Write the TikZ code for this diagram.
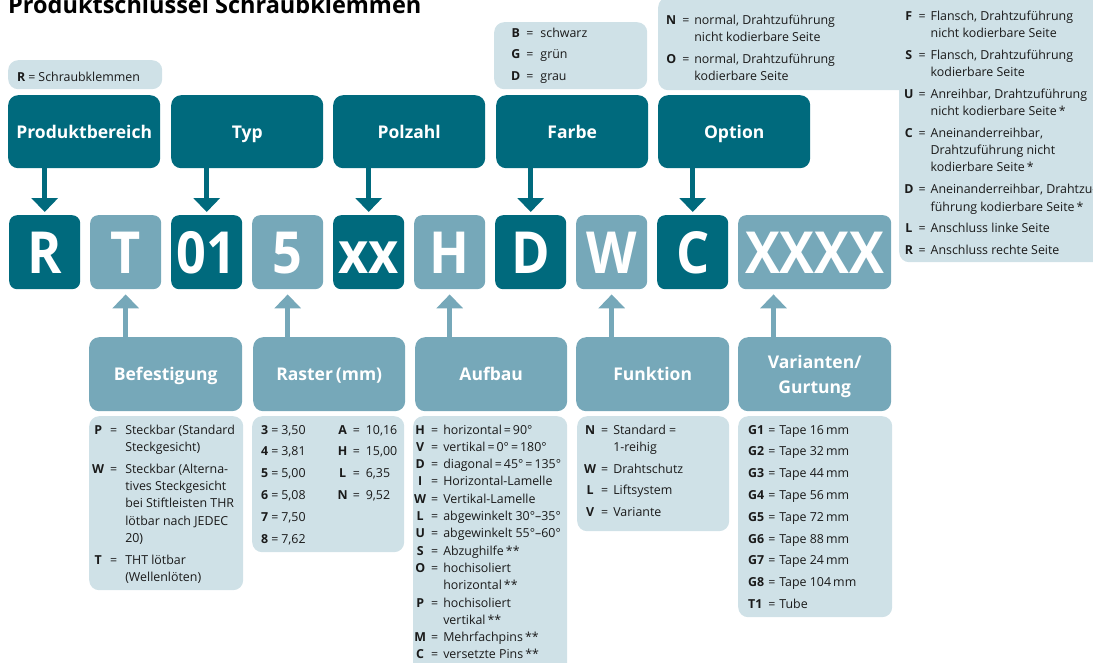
\documentclass[tikz,border=0pt]{standalone}
\usepackage{fontspec}
\setmainfont{Open Sans}
\usepackage{graphicx}
\usetikzlibrary{arrows.meta}
\definecolor{tdark}{HTML}{006A7D}
\definecolor{tmid}{HTML}{76A8B9}
\definecolor{tlight}{HTML}{CFE1E7}
\definecolor{tink}{HTML}{1A1A1A}
\newcommand{\bodyfont}{\fontsize{12.4}{17.3}\selectfont}
\newcommand{\K}[1]{\textbf{#1}}
\newcommand{\BL}[1]{\scalebox{0.9}[1]{#1}}
\tikzset{
  hdrbox/.style={fill=tdark, rounded corners=10pt, anchor=north west, inner sep=0pt,
    minimum width=152pt, minimum height=73pt, text=white,
    font=\bfseries\fontsize{17.5}{20}\selectfont, text height=13pt, text depth=0pt},
  lowbox/.style={hdrbox, fill=tmid, minimum width=153pt, minimum height=74pt},
  letdark/.style={fill=tdark, rounded corners=8pt, anchor=north west, inner sep=0pt,
    minimum width=71pt, minimum height=74pt, text=white,
    font=\bfseries\fontsize{58}{60}\selectfont, text height=42pt, text depth=0pt},
  letmid/.style={letdark, fill=tmid},
  infobox/.style={fill=tlight, rounded corners=10pt, anchor=north west, inner sep=0pt},
  txt/.style={anchor=base west, inner sep=0pt, text=tink, font=\bodyfont},
  darrow/.style={draw=tdark, line width=5pt, -{Triangle[width=26pt,length=14pt]}},
  uarrow/.style={darrow, draw=tmid},
}
\begin{document}
\begin{tikzpicture}[x=1pt,y=-1pt]
\useasboundingbox (0,0) rectangle (1093,662);

% title
\node[anchor=base west, inner sep=0pt, text=black, font=\bfseries\fontsize{23.5}{26}\selectfont] (title) at (8,13) {Produktschlüssel Schraubklemmen};

% top info boxes
\node[infobox, minimum width=154pt, minimum height=29pt] (iR) at (8,60) {};
\node[infobox, minimum width=153pt, minimum height=67pt] (iF) at (494,22) {};
\node[infobox, minimum width=450pt, minimum height=93pt] (iO) at (658,-3) {};
\node[infobox, minimum width=210pt, minimum height=272pt] (iP) at (899,-10) {};

\node[txt] (tR) at (17,81) {\K{R}\kern3pt=\kern3pt Schraubklemmen};
\node[txt] (tF) at (511,37) {\begin{tabular}[t]{@{}c@{\hspace{6pt}}c@{\hspace{7pt}}l@{}}
\K{B} & = & schwarz\\[4.5pt]
\K{G} & = & grün\\[4.5pt]
\K{D} & = & grau
\end{tabular}};
\node[txt] (tO) at (666,24) {\begin{tabular}[t]{@{}c@{\hspace{6pt}}c@{\hspace{5pt}}l@{}}
\K{N} & = & normal, Drahtzuführung\\
 & & nicht kodierbare Seite\\[4.5pt]
\K{O} & = & normal, Drahtzuführung\\
 & & kodierbare Seite
\end{tabular}};
\node[txt] (tP) at (904,20) {\begin{tabular}[t]{@{}c@{\hspace{5pt}}c@{\hspace{5pt}}l@{}}
\K{F} & = & Flansch, Drahtzuführung\\
 & & nicht kodierbare Seite\\[4.5pt]
\K{S} & = & Flansch, Drahtzuführung\\
 & & kodierbare Seite\\[4.5pt]
\K{U} & = & Anreihbar, Drahtzuführung\\
 & & nicht kodierbare Seite\,*\\[4.5pt]
\K{C} & = & Aneinanderreihbar,\\
 & & Drahtzuführung nicht\\
 & & kodierbare Seite\,*\\[4.5pt]
\K{D} & = & Aneinanderreihbar, Drahtzu-\\
 & & führung kodierbare Seite\,*\\[4.5pt]
\K{L} & = & Anschluss linke Seite\\[4.5pt]
\K{R} & = & Anschluss rechte Seite
\end{tabular}};

% header boxes
\node[hdrbox] (hP) at (8,95) {Produktbereich};
\node[hdrbox] (hT) at (171,95) {Typ};
\node[hdrbox] (hZ) at (333,95) {Polzahl};
\node[hdrbox] (hF) at (496,95) {Farbe};
\node[hdrbox] (hO) at (658,95) {Option};

% letter boxes
\node[letdark] (lR) at (9,215) {\BL{R}};
\node[letmid]  (lT) at (90,215) {\BL{T}};
\node[letdark] (l01) at (171,215) {\BL{01}};
\node[letmid]  (l5) at (252,215) {\BL{5}};
\node[letdark] (lxx) at (333,215) {\BL{xx}};
\node[letmid]  (lH) at (414,215) {\BL{H}};
\node[letdark] (lD) at (495,215) {\BL{D}};
\node[letmid]  (lW) at (576,215) {\BL{W}};
\node[letdark] (lC) at (657,215) {\BL{C}};
\node[letmid, minimum width=153pt] (lX) at (738,215) {\BL{XXXX}};

% lower header boxes
\node[lowbox] (bB) at (89,337) {Befestigung};
\node[lowbox, minimum width=152pt] (bR) at (253,337) {Raster\,(mm)};
\node[lowbox, minimum width=152pt] (bA) at (415,337) {Aufbau};
\node[lowbox] (bF) at (576,337) {Funktion};
\node[lowbox] (bV) at (738,337) {};
\node[inner sep=0pt, text=white, align=center, font=\bfseries\fontsize{17.5}{25}\selectfont] (bVt) at ([yshift=-2.5pt]bV.center) {Varianten/\\Gurtung};

% down arrows
\draw[darrow] (lR.north |- hP.south) -- ([yshift=3pt]lR.north);
\draw[darrow] (l01.north |- hT.south) -- ([yshift=3pt]l01.north);
\draw[darrow] (lxx.north |- hZ.south) -- ([yshift=3pt]lxx.north);
\draw[darrow] (lD.north |- hF.south) -- ([yshift=3pt]lD.north);
\draw[darrow] (lC.north |- hO.south) -- ([yshift=3pt]lC.north);

% up arrows
\coordinate (xc) at ([xshift=35.5pt]lX.south west);
\draw[uarrow] (lT.south |- bB.north) -- ([yshift=-5pt]lT.south);
\draw[uarrow] (l5.south |- bR.north) -- ([yshift=-5pt]l5.south);
\draw[uarrow] (lH.south |- bA.north) -- ([yshift=-5pt]lH.south);
\draw[uarrow] (lW.south |- bF.north) -- ([yshift=-5pt]lW.south);
\draw[uarrow] (xc |- bV.north) -- ([yshift=-5pt]xc);

% detail boxes
\node[infobox, minimum width=154pt, minimum height=174pt] (dB) at (89,416) {};
\node[infobox, minimum width=152pt, minimum height=136pt] (dR) at (252,416) {};
\node[infobox, minimum width=154pt, minimum height=260pt] (dA) at (413,416) {};
\node[infobox, minimum width=152pt, minimum height=115pt] (dF) at (577,416) {};
\node[infobox, minimum width=154pt, minimum height=201pt] (dV) at (738,416) {};

\node[txt] (tB) at (92,434) {\begin{tabular}[t]{@{}c@{\hspace{6pt}}c@{\hspace{8pt}}l@{}}
\K{P} & = & Steckbar (Standard\\
 & & Steckgesicht)\\[4.5pt]
\K{W} & = & Steckbar (Alterna-\\
 & & tives Steckgesicht\\
 & & bei Stiftleisten THR\\
 & & lötbar nach JEDEC\\
 & & 20)\\[4.5pt]
\K{T} & = & THT lötbar\\
 & & (Wellenlöten)
\end{tabular}};
\node[txt] (tRa) at (261,434) {\begin{tabular}[t]{@{}c@{\hspace{3pt}}c@{\hspace{3pt}}l@{\hspace{32pt}}c@{\hspace{5pt}}c@{\hspace{6pt}}l@{}}
\K{3} & = & 3,50 & \K{A} & = & 10,16\\[4.5pt]
\K{4} & = & 3,81 & \K{H} & = & 15,00\\[4.5pt]
\K{5} & = & 5,00 & \K{L} & = & 6,35\\[4.5pt]
\K{6} & = & 5,08 & \K{N} & = & 9,52\\[4.5pt]
\K{7} & = & 7,50 & & & \\[4.5pt]
\K{8} & = & 7,62 & & &
\end{tabular}};
\node[txt] (tA) at (414,434) {\begin{tabular}[t]{@{}c@{\hspace{5pt}}c@{\hspace{5pt}}l@{}}
\K{H} & = & horizontal\kern2pt=\kern2pt90°\\
\K{V} & = & vertikal\kern2pt=\kern2pt0°\kern2pt=\kern2pt180°\\
\K{D} & = & diagonal\kern2pt=\kern2pt45°\kern2pt=\kern2pt135°\\
\K{I} & = & Horizontal-Lamelle\\
\K{W} & = & Vertikal-Lamelle\\
\K{L} & = & abgewinkelt 30°–35°\\
\K{U} & = & abgewinkelt 55°–60°\\
\K{S} & = & Abzughilfe\,**\\
\K{O} & = & hochisoliert\\
 & & horizontal\,**\\
\K{P} & = & hochisoliert\\
 & & vertikal\,**\\
\K{M} & = & Mehrfachpins\,**\\
\K{C} & = & versetzte Pins\,**
\end{tabular}};
\node[txt] (tFu) at (584,434) {\begin{tabular}[t]{@{}c@{\hspace{5pt}}c@{\hspace{5pt}}l@{}}
\K{N} & = & Standard =\\
 & & 1-reihig\\[4.5pt]
\K{W} & = & Drahtschutz\\[4.5pt]
\K{L} & = & Liftsystem\\[4.5pt]
\K{V} & = & Variante
\end{tabular}};
\node[txt] (tV) at (748,434) {\begin{tabular}[t]{@{}l@{\hspace{4pt}}c@{\hspace{4pt}}l@{}}
\K{G1} & = & Tape 16\,mm\\[4.5pt]
\K{G2} & = & Tape 32\,mm\\[4.5pt]
\K{G3} & = & Tape 44\,mm\\[4.5pt]
\K{G4} & = & Tape 56\,mm\\[4.5pt]
\K{G5} & = & Tape 72\,mm\\[4.5pt]
\K{G6} & = & Tape 88\,mm\\[4.5pt]
\K{G7} & = & Tape 24\,mm\\[4.5pt]
\K{G8} & = & Tape 104\,mm\\[4.5pt]
\K{T1} & = & Tube
\end{tabular}};
\end{tikzpicture}
\end{document}
